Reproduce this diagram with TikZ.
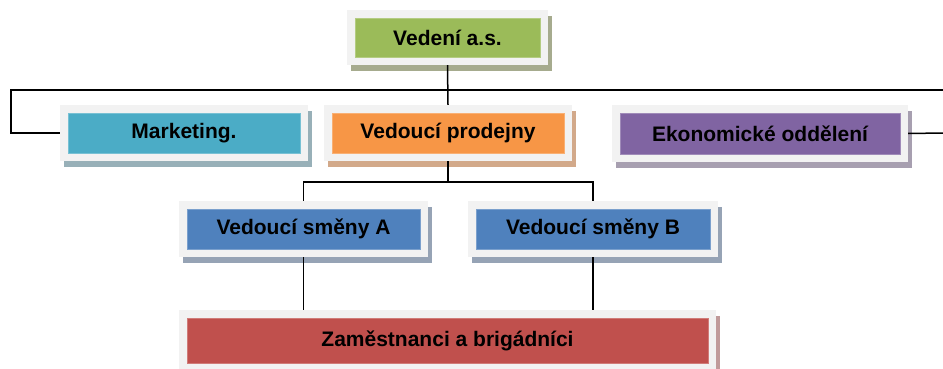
\documentclass[tikz,border=0pt]{standalone}
\usepackage{fontspec}
\setmainfont{Liberation Sans}
\usetikzlibrary{shadows,calc}
\definecolor{frm}{HTML}{F2F2F2}
\definecolor{cgreen}{HTML}{9BBB59}\definecolor{sgreen}{HTML}{A6AB8E}
\definecolor{cteal}{HTML}{4BACC6}\definecolor{steal}{HTML}{98B0B8}
\definecolor{corange}{HTML}{F79646}\definecolor{sorange}{HTML}{D2A98A}
\definecolor{cpurple}{HTML}{8064A2}\definecolor{spurple}{HTML}{A79FB0}
\definecolor{cblue}{HTML}{4F81BD}\definecolor{sblue}{HTML}{96A3B5}
\definecolor{cred}{HTML}{C0504D}\definecolor{sred}{HTML}{C09A9A}
\tikzset{
  orgbox/.style n args={4}{rectangle, fill=frm, minimum width=#1, minimum height=#2,
    inner sep=0pt, font=\fontsize{21}{25}\selectfont\bfseries,
    general shadow={fill=#4, shadow xshift=4pt, shadow yshift=-6pt},
    path picture={\fill[#3, draw=#3!75!white, line width=0.8pt]
      ($(path picture bounding box.south west)+(8pt,8pt)$) rectangle
      ($(path picture bounding box.north east)+(-8pt,-8pt)$);}},
  conn/.style={draw=black, line width=1.5pt}
}
\begin{document}
\begin{tikzpicture}[x=1pt,y=-1pt]
\useasboundingbox (0,0) rectangle (943,369);
\node[orgbox={201pt}{55pt}{cgreen}{sgreen}] (ved) at (447.5,37.5) {Vedení a.s.};
\node[orgbox={248pt}{56pt}{cteal}{steal}] (mkt) at (184,133) {Marketing.};
\node[orgbox={248pt}{56pt}{corange}{sorange}] (vp) at (448,133) {Vedoucí prodejny};
\node[orgbox={296pt}{57pt}{cpurple}{spurple}] (ekon) at (760,133.5) {Ekonomické oddělení};
\node[orgbox={249pt}{56pt}{cblue}{sblue}] (va) at (303.5,229) {Vedoucí směny A};
\node[orgbox={250pt}{56pt}{cblue}{sblue}] (vb) at (593,229) {Vedoucí směny B};
\node[orgbox={537pt}{61pt}{cred}{sred}] (z) at (447.5,340.5) {Zaměstnanci a brigádníci};
\coordinate (lt) at (11,90);
\coordinate (rt) at (943,90);
\coordinate (re) at (943,133);
\coordinate (h) at (448,182);
\draw[conn] (ved.south) -- (vp.north);
\draw[conn] (mkt.west) -| (lt) -- (rt);
\draw[conn] (ekon.east) -- (re);
\draw[conn] (vp.south) -- (h);
\draw[conn] (va.north) |- (h) -| (vb.north);
\draw[conn] (va.south) -- (va.south |- z.north);
\draw[conn] (vb.south) -- (vb.south |- z.north);
\end{tikzpicture}
\end{document}
